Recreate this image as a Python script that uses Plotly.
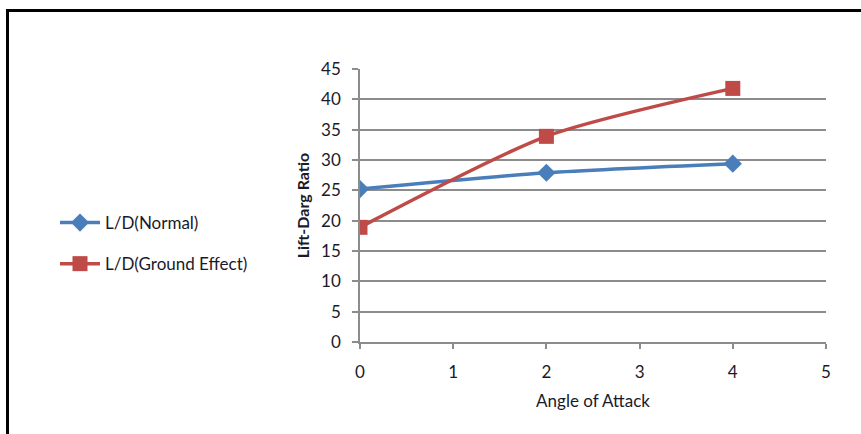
import plotly.graph_objects as go

# Lift-to-drag ratio versus angle of attack
angle = [0, 2, 4]
ld_normal = [25.2, 27.9, 29.4]
ld_ground = [18.9, 33.9, 41.8]
x_ticks = [0, 1, 2, 3, 4, 5]
y_ticks = [0, 5, 10, 15, 20, 25, 30, 35, 40, 45]

W, H = 861, 434
L, R, T, B = 360, 35, 69, 92
PW, PH = W - L - R, H - T - B

def px_x(px):
    return (px - L) / PW

def px_y(py):
    return (H - B - py) / PH

font = "Lato, 'Open Sans', sans-serif"
txt = "#1a1a2a"

fig = go.Figure()
fig.add_trace(go.Scatter(
    x=angle, y=ld_normal, name="L/D(Normal)", legendgroup="a",
    mode="lines+markers",
    line=dict(color="#4A7EBB", width=3.5, shape="spline", smoothing=0.7),
    marker=dict(symbol="diamond", size=14, color="#4A7EBB"),
))
fig.add_trace(go.Scatter(
    x=angle, y=ld_ground, name="L/D(Ground Effect)", legendgroup="b",
    mode="lines+markers",
    line=dict(color="#BE4B48", width=3.5, shape="spline", smoothing=0.7),
    marker=dict(symbol="square", size=15, color="#BE4B48"),
))

fig.update_layout(
    width=W, height=H,
    margin=dict(l=L, r=R, t=T, b=B, pad=0),
    paper_bgcolor="white", plot_bgcolor="white",
    font=dict(family=font, size=17, color=txt),
    legend=dict(
        x=px_x(55), y=px_y(205), xanchor="left", yanchor="top",
        traceorder="grouped", tracegroupgap=16,
        font=dict(family=font, size=17, color=txt),
        bgcolor="rgba(0,0,0,0)", itemwidth=40,
    ),
    xaxis=dict(
        range=[0, 5], tickvals=x_ticks, showgrid=False, zeroline=False,
        showline=True, linecolor="#8c8c8c", linewidth=1.5,
        ticks="outside", ticklen=5, tickcolor="#8c8c8c", tickwidth=1.5,
        ticklabelstandoff=9,
        tickfont=dict(size=17, color=txt),
        title=dict(text="Angle of Attack", font=dict(size=17, color=txt), standoff=14),
    ),
    yaxis=dict(
        range=[0, 45], tickvals=y_ticks, showgrid=True, gridcolor="#8c8c8c",
        gridwidth=1.5, zeroline=False,
        showline=True, linecolor="#8c8c8c", linewidth=1.5,
        ticks="outside", ticklen=6, tickcolor="#8c8c8c", tickwidth=1.5,
        ticklabelstandoff=8,
        tickfont=dict(size=17, color=txt),
        title=dict(text="<b>Lift-Darg Ratio</b>", font=dict(size=16, color=txt), standoff=8),
    ),
    showlegend=True,
)

# Outer frame: top and left edges
fig.add_shape(type="line", xref="paper", yref="paper",
              x0=px_x(6), x1=px_x(W + 5), y0=px_y(10.5), y1=px_y(10.5),
              line=dict(color="black", width=3))
fig.add_shape(type="line", xref="paper", yref="paper",
              x0=px_x(7.5), x1=px_x(7.5), y0=px_y(9), y1=px_y(H + 5),
              line=dict(color="black", width=3))

fig.write_html("out.html")
